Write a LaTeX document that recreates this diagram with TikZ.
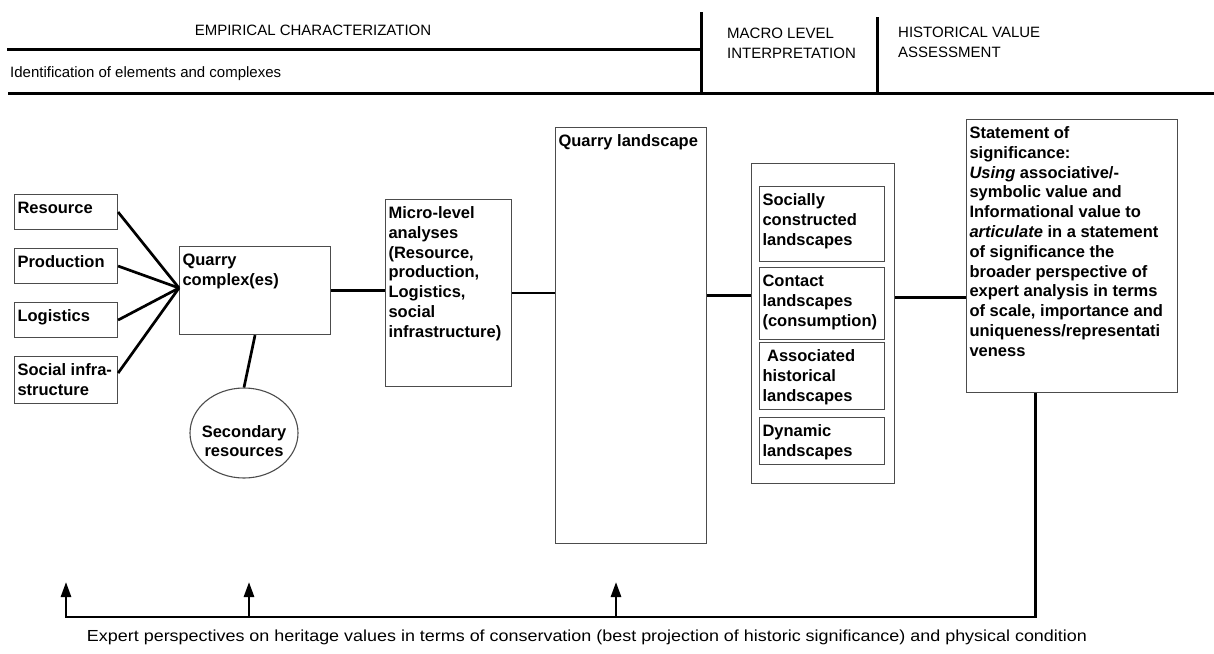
\documentclass[tikz,border=0pt]{standalone}
\usepackage{fontspec}
\usepackage{graphicx}
\setmainfont{Liberation Sans}
\usetikzlibrary{shapes.geometric,arrows.meta,calc}
\newcommand{\tbx}[3]{\parbox[t][#2][t]{#1}{\raggedright\rule{0pt}{16pt}#3}}
\begin{document}
\begin{tikzpicture}[x=1pt,y=-1pt,
  box/.style={draw=black!70, line width=1.1pt, anchor=north west, inner xsep=3pt, inner ysep=3pt,
    font=\fontsize{16.5}{19.8}\selectfont\bfseries},
  conn/.style={line width=2.7pt, draw=black},
  hdr/.style={line width=3pt, draw=black},
  htext/.style={font=\fontsize{15}{20}\selectfont, inner sep=0pt},
  tip/.style={-{Triangle[width=10pt,length=15pt]}},
]
\useasboundingbox (0,0) rectangle (1214,653);

% header
\draw[hdr] (7,49) -- (701,49);
\draw[hdr] (701,12) -- (701,93);
\draw[hdr] (877,17) -- (877,93);
\draw[hdr] (8,93) -- (1214,93);
\node[htext, anchor=base] (emp) at (313,35.4) {EMPIRICAL CHARACTERIZATION};
\node[htext, anchor=base west] (ident) at (10,77) {Identification of elements and complexes};
\node[htext, anchor=base west, align=left] (macro) at (727,58.4) {MACRO LEVEL\\INTERPRETATION};
\node[htext, anchor=base west, align=left] (hist) at (898,57) {HISTORICAL VALUE\\ASSESSMENT};

% left boxes
\node[box] (res)  at (14,194) {\tbx{97pt}{29pt}{Resource}};
\node[box] (prod) at (14,248) {\tbx{97pt}{29pt}{Production}};
\node[box] (log)  at (14,302) {\tbx{97pt}{29pt}{Logistics}};
\node[box] (soc)  at (14,356) {\tbx{97pt}{41pt}{Social infra-\\structure}};

\node[box] (qc) at (179,246) {\tbx{145pt}{82pt}{Quarry\\complex(es)}};
\node[draw=black!70, line width=1.1pt, ellipse, minimum width=108pt, minimum height=90pt, inner sep=0pt,
  label={[yshift=-8pt, align=center, font=\fontsize{16.5}{19.8}\selectfont\bfseries]center:Secondary\\resources}]
  (sec) at (244,433) {};

\node[box] (micro) at (385,199) {\tbx{120pt}{181pt}{Micro-level\\analyses\\(Resource,\\production,\\Logistics,\\social\\infrastructure)}};
\node[box] (ql) at (555,127) {\tbx{145pt}{410pt}{Quarry landscape}};

\node[draw=black!70, line width=1.1pt, anchor=north west, minimum width=143pt, minimum height=320pt, inner sep=0pt] (grp) at (751,163) {};
\node[box] (s1) at (759,186) {\tbx{119pt}{69pt}{Socially\\constructed\\landscapes}};
\node[box] (s2) at (759,267) {\tbx{119pt}{66pt}{Contact\\landscapes\\(consumption)}};
\node[box] (s3) at (759,342) {\tbx{119pt}{61pt}{\ Associated\\historical\\landscapes}};
\node[box] (s4) at (759,417) {\tbx{119pt}{41pt}{Dynamic\\landscapes}};

\node[box] (stmt) at (966,119) {\tbx{205pt}{267pt}{Statement of\\significance:\\\textit{Using} associative/-\\symbolic value and\\Informational value to\\\textit{articulate} in a statement\\of significance the\\broader perspective of\\expert analysis in terms\\of scale, importance and\\uniqueness/representati\\veness}};

% connectors
\coordinate (hub) at (179,288);
\draw[conn] (res.east) -- (hub);
\draw[conn] (prod.east) -- (hub);
\draw[conn] (log.east) -- (hub);
\draw[conn] ([yshift=7pt]soc.east) -- (hub);
\draw[conn] (qc.south) -- (sec.north);
\draw[conn] (qc.east) -- (qc.east -| micro.west);
\draw[conn] (micro.east) -- (micro.east -| ql.west);
\coordinate (a3) at ([yshift=40pt]ql.east);
\draw[conn] (a3) -- (a3 -| grp.west);
\coordinate (a4) at ([yshift=26pt]grp.east);
\draw[conn] (a4) -- (a4 -| stmt.west);

% feedback line
\coordinate (fb) at ([xshift=-36.5pt]stmt.south);
\coordinate (corner) at (66,617);
\coordinate (t1) at (66,582);
\coordinate (b2) at (249,617);
\coordinate (t2) at (249,582);
\coordinate (b3) at (616,617);
\coordinate (t3) at (616,582);
\draw[conn, tip] (fb) -- (fb |- corner) -- (corner) -- (t1);
\draw[conn, tip] (b2) -- (t2);
\draw[conn, tip] (b3) -- (t3);

\node[htext, anchor=base] (exp) at (587,641) {\resizebox{1000pt}{\height}{\fontsize{16}{20}\selectfont Expert perspectives on heritage values in terms of conservation (best projection of historic significance) and physical condition}};
\end{tikzpicture}
\end{document}
